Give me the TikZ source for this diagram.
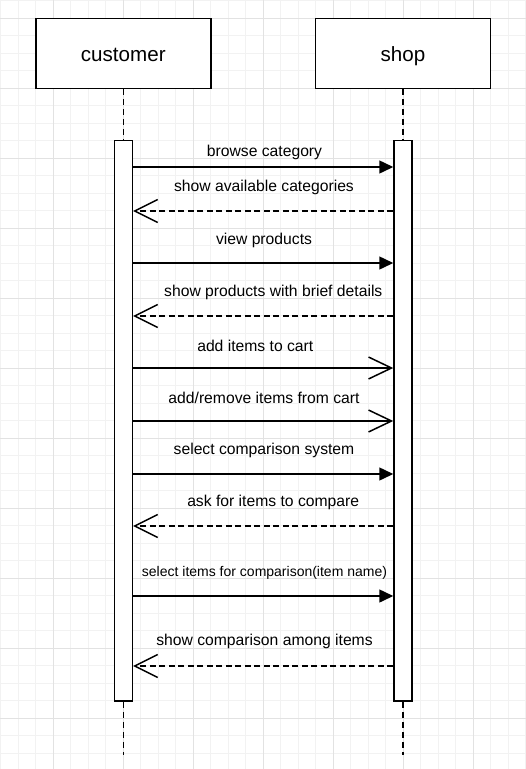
\documentclass[tikz,border=0pt]{standalone}
\usepackage{fontspec}
\setmainfont{Liberation Sans}
\usetikzlibrary{arrows.meta}
\definecolor{gridminor}{HTML}{F2F2F2}
\definecolor{gridmajor}{HTML}{E2E2E2}
\tikzset{
  gridmin/.style={draw=gridminor,line width=0.8pt},
  gridmaj/.style={draw=gridmajor,line width=0.8pt},
  actor/.style={draw,line width=1.5pt,fill=white,minimum width=175pt,minimum height=70pt,inner sep=0pt,text height=15pt,text depth=0pt,font=\fontsize{20.6}{24}\selectfont},
  actbar/.style={draw,line width=1.5pt,fill=white,minimum width=18pt,inner sep=0pt},
  lifeline/.style={line width=1.5pt,dash pattern=on 6pt off 4pt},
  msg/.style={line width=1.5pt,-{Triangle[length=14pt,width=13pt]}},
  msgopen/.style={line width=1.5pt,-{Straight Barb[length=23pt,width=22pt,line width=1.5pt]}},
  reply/.style={line width=1.5pt,dash pattern=on 6pt off 3.5pt,-{Straight Barb[length=23pt,width=23pt,line width=1.5pt]}},
  lbl/.style={inner sep=0pt,font=\fontsize{15.7}{18}\selectfont},
  lblsmall/.style={inner sep=0pt,font=\fontsize{14}{16}\selectfont}
}
\begin{document}
\begin{tikzpicture}[x=1pt,y=-1pt]
\useasboundingbox (0,0) rectangle (526,769);
\fill[white] (0,0) rectangle (526,769);
% grid
\foreach \k in {0,...,30} { \draw[gridmin] ({0.8+17.5*\k},0) -- ({0.8+17.5*\k},769); }
\foreach \k in {0,...,43} { \draw[gridmin] (0,{0.8+17.5*\k}) -- (526,{0.8+17.5*\k}); }
\foreach \k in {0,...,6} { \draw[gridmaj] ({53.3+70*\k},0) -- ({53.3+70*\k},769); }
\foreach \k in {0,...,10} { \draw[gridmaj] (0,{18.3+70*\k}) -- (526,{18.3+70*\k}); }

% actors
\node[actor] (cust) at (123.3,53.5) {customer};
\node[actor] (shop) at (403,53.5) {shop};

% activation bars
\node[actbar,minimum height=560.3pt] (actC) at (123.3,420.85) {};
\node[actbar,minimum height=560.3pt] (actS) at (403,420.85) {};

% lifeline ends
\coordinate (custEnd) at (123.3,755);
\coordinate (shopEnd) at (403,755);

% lifelines
\draw[lifeline] (cust.south) -- (actC.north);
\draw[lifeline] (shop.south) -- (actS.north);
\draw[lifeline] (actC.south) -- (custEnd);
\draw[lifeline] (actS.south) -- (shopEnd);

% messages
\draw[msg] (actC.east |- 0,167) -- (actS.west |- 0,167);
\node[lbl] (l1) at (264.5,152.5) {browse category};

\draw[reply] (actS.west |- 0,211) -- (actC.east |- 0,211);
\node[lbl] (l2) at (264,187) {show available categories};

\draw[msg] (actC.east |- 0,263) -- (actS.west |- 0,263);
\node[lbl] (l3) at (264,240.5) {view products};

\draw[reply] (actS.west |- 0,316) -- (actC.east |- 0,316);
\node[lbl] (l4) at (273.3,292.5) {show products with brief details};

\draw[msgopen] (actC.east |- 0,368) -- (actS.west |- 0,368);
\node[lbl] (l5) at (255.3,345.5) {add items to cart};

\draw[msgopen] (actC.east |- 0,421) -- (actS.west |- 0,421);
\node[lbl] (l6) at (264,397.5) {add/remove items from cart};

\draw[msg] (actC.east |- 0,474) -- (actS.west |- 0,474);
\node[lbl] (l7) at (264,450) {select comparison system};

\draw[reply] (actS.west |- 0,526) -- (actC.east |- 0,526);
\node[lbl] (l8) at (273.2,502.5) {ask for items to compare};

\draw[msg] (actC.east |- 0,596) -- (actS.west |- 0,596);
\node[lblsmall] (l9) at (264.5,573.2) {select items for comparison(item name)};

\draw[reply] (actS.west |- 0,666) -- (actC.east |- 0,666);
\node[lbl] (l10) at (264.5,641.8) {show comparison among items};
\end{tikzpicture}
\end{document}
